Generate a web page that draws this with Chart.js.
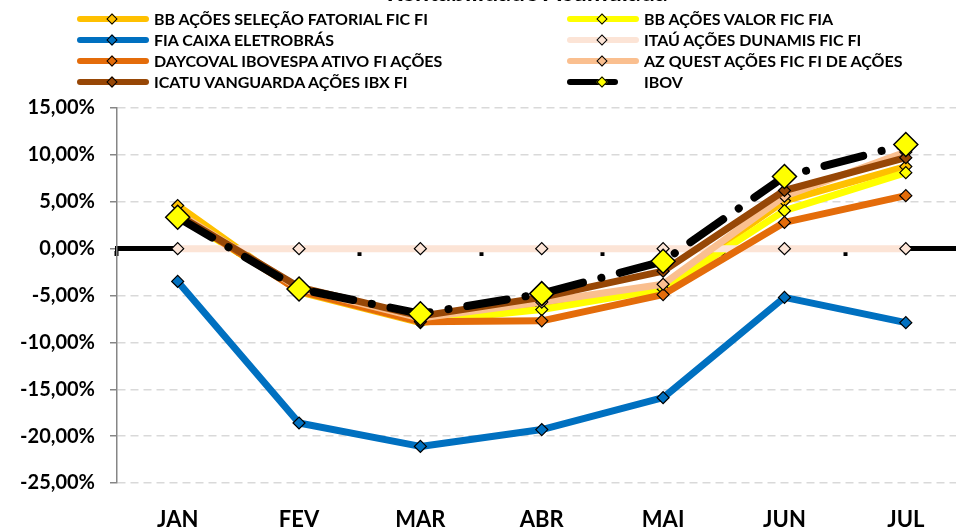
<!DOCTYPE html>
<html lang="pt-BR">
<head>
<meta charset="utf-8">
<title>Rentabilidade Acumulada</title>
<script src="https://cdn.jsdelivr.net/npm/chart.js@4.4.1/dist/chart.umd.min.js"></script>
<style>
  html, body { margin: 0; padding: 0; background: #fff; }
  body { width: 956px; height: 529px; overflow: hidden; position: relative; font-family: Lato, sans-serif; }
  /* wider than the window: the plot runs past the right edge, as in the original */
  #chartBox { position: absolute; left: 0; top: 0; width: 980px; height: 529px; }
  #chartTitle { position: absolute; left: 0; width: 1054px; top: -24px; text-align: center; font: bold 25px/30px Lato, sans-serif; color: #000; }
  #chartLegend { position: absolute; left: 0; top: 0; width: 956px; height: 95px; }
  .lg-item { position: absolute; height: 20px; }
  .lg-line { position: absolute; left: 0; top: 7px; height: 6px; border-radius: 3px; }
  .lg-mark { position: absolute; left: 30.5px; top: 5.5px; width: 6px; height: 6px; border: 1.5px solid #000; transform: rotate(45deg); }
  .lg-text { position: absolute; left: 77px; top: 0; line-height: 20px; font-size: 16px; font-weight: bold; white-space: nowrap; color: #000; }
</style>
</head>
<body>
<div id="chartBox"><canvas id="rentChart"></canvas></div>
<div id="chartTitle">Rentabilidade Acumulada</div>
<div id="chartLegend"></div>

<script>
// Rentabilidade acumulada (%) por mês
const months = ['JAN', 'FEV', 'MAR', 'ABR', 'MAI', 'JUN', 'JUL'];

const bbSelecao   = [4.6, -4.6, -7.9, -6.2, -3.9, 5.1, 8.75];
const bbValor     = [3.5, -4.4, -7.8, -6.5, -4.3, 4.05, 8.1];
const fiaCaixa    = [-3.5, -18.6, -21.1, -19.3, -15.9, -5.2, -7.9];
const itauDunamis = [0, 0, 0, 0, 0, 0, 0];
const daycoval    = [3.7, -4.5, -7.8, -7.7, -4.9, 2.8, 5.65];
const azQuest     = [3.8, -4.2, -7.4, -5.7, -3.8, 5.6, 10.3];
const icatu       = [3.6, -4.1, -7.2, -5.2, -2.4, 6.2, 9.7];
const ibov        = [3.35, -4.3, -6.95, -4.8, -1.35, 7.7, 11.1];

const yTicks = [-25, -20, -15, -10, -5, 0, 5, 10, 15];

const seriesNames = [
  'BB AÇÕES SELEÇÃO FATORIAL FIC FI',
  'BB AÇÕES VALOR FIC FIA',
  'FIA CAIXA ELETROBRÁS',
  'ITAÚ AÇÕES DUNAMIS FIC FI',
  'DAYCOVAL IBOVESPA ATIVO FI AÇÕES',
  'AZ QUEST AÇÕES FIC FI DE AÇÕES',
  'ICATU VANGUARDA AÇÕES IBX FI',
  'IBOV'
];
const seriesValues = [bbSelecao, bbValor, fiaCaixa, itauDunamis, daycoval, azQuest, icatu, ibov];

const lineColors = ['#FFC000', '#FFFF00', '#0070C0', '#FCE4D6', '#E46C0A', '#FABF8F', '#974706', '#000000'];
const markFills  = ['#FFC000', '#FFFF00', '#0070C0', '#FCE4D6', '#E46C0A', '#FABF8F', '#974706', '#FFFF00'];

const IBOV_IDX = seriesValues.length - 1;

function fmtPct(v) {
  return v.toFixed(2).replace('.', ',') + '%';
}

const datasets = seriesValues.map((vals, i) => {
  const isIbov = i === IBOV_IDX;
  return {
    label: seriesNames[i],
    data: vals,
    borderColor: lineColors[i],
    backgroundColor: markFills[i],
    borderWidth: isIbov ? 8 : 7,
    borderDash: isIbov ? [40, 19, 0.1, 19] : [],
    borderCapStyle: 'round',
    borderJoinStyle: 'round',
    tension: 0,
    fill: false,
    pointStyle: 'rectRot',
    pointRadius: isIbov ? 12 : 6,
    pointBackgroundColor: markFills[i],
    pointBorderColor: '#000000',
    pointBorderWidth: isIbov ? 1.5 : 1.2,
    // later series are painted over earlier ones
    order: IBOV_IDX - i
  };
});

const labelFont = { family: 'Lato, sans-serif', weight: 'bold' };

function noSidePadding(scale) {
  scale.paddingLeft = 0;
  scale.paddingRight = 0;
}

new Chart(document.getElementById('rentChart'), {
  type: 'line',
  data: { labels: months, datasets: datasets },
  options: {
    responsive: true,
    maintainAspectRatio: false,
    animation: false,
    layout: { padding: { top: 108, left: 0, right: 0, bottom: 0 } },
    plugins: {
      legend: { display: false },
      title: { display: false },
      tooltip: { enabled: false }
    },
    scales: {
      x: {
        type: 'category',
        position: 'bottom',
        offset: true,
        grid: { display: false },
        border: { display: false },
        ticks: {
          color: '#000',
          font: { ...labelFont, size: 22 },
          padding: 16,
          maxRotation: 0,
          autoSkip: false
        },
        afterFit: (scale) => { scale.height = 46; noSidePadding(scale); }
      },
      // category axis crossing at 0
      x0: {
        type: 'category',
        axis: 'x',
        position: { y: 0 },
        offset: true,
        grid: {
          offset: true,
          drawOnChartArea: false,
          drawTicks: true,
          tickLength: 5,
          tickWidth: 4,
          tickColor: '#000'
        },
        border: { display: true, color: '#000', width: 5 },
        ticks: { display: false },
        afterFit: noSidePadding
      },
      y: {
        min: yTicks[0],
        max: yTicks[yTicks.length - 1],
        afterBuildTicks: (scale) => { scale.ticks = yTicks.map(v => ({ value: v })); },
        ticks: {
          color: '#000',
          font: { ...labelFont, size: 20 },
          padding: 15,
          callback: (v) => fmtPct(v)
        },
        grid: {
          color: '#D9D9D9',
          lineWidth: 1.5,
          tickColor: '#868686',
          tickLength: 7,
          tickWidth: 1.5
        },
        border: { display: true, color: '#868686', width: 1.5, dash: [8, 5] },
        afterFit: (scale) => { scale.width = 117; }
      }
    }
  }
});

// legend: two columns, four rows
const legendCols = [77, 567];
const legendRows = [19, 40, 61, 82];
const legendBox = document.getElementById('chartLegend');
seriesNames.forEach((name, i) => {
  const item = document.createElement('div');
  item.className = 'lg-item';
  item.style.left = legendCols[i % 2] + 'px';
  item.style.top = (legendRows[Math.floor(i / 2)] - 10) + 'px';

  const line = document.createElement('span');
  line.className = 'lg-line';
  line.style.width = (i === IBOV_IDX ? 51 : 72) + 'px';
  line.style.background = lineColors[i];
  item.appendChild(line);

  const mark = document.createElement('span');
  mark.className = 'lg-mark';
  mark.style.background = markFills[i];
  item.appendChild(mark);

  const text = document.createElement('span');
  text.className = 'lg-text';
  text.textContent = name;
  item.appendChild(text);

  legendBox.appendChild(item);
});
</script>
</body>
</html>
